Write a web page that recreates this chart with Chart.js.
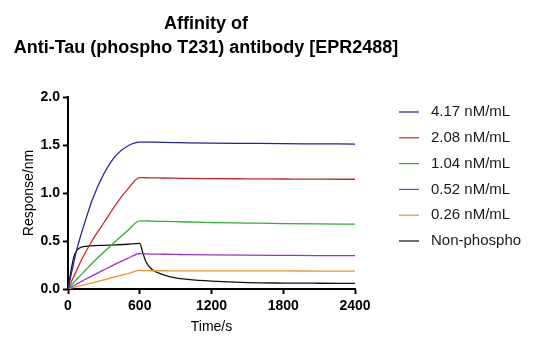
<!DOCTYPE html>
<html lang="en">
  <head>
    <meta charset="UTF-8" />
    <title>Affinity of Anti-Tau (phospho T231) antibody [EPR2488]</title>
    <style>
      body {
        margin: 0;
        background-color: #ffffff;
      }
      #chart-box {
        width: 537px;
        height: 351px;
      }
    </style>
  </head>
  <body>
    <div id="chart-box">
      <canvas id="affinityChart" width="537" height="351"></canvas>
    </div>
    <script src="https://cdn.jsdelivr.net/npm/chart.js"></script>
    <script>
      // time points (s), shared by all traces
      const timePoints = [0, 25, 50, 75, 100, 150, 200, 300, 400, 500, 600,
        625, 650, 700, 800, 900, 1000, 1200, 1500, 1800, 2100, 2400];

      const seriesLabels = ["4.17 nM/mL", "2.08 nM/mL", "1.04 nM/mL",
        "0.52 nM/mL", "0.26 nM/mL", "Non-phospho"];
      const seriesColors = ["#23239c", "#c62a2a", "#2fae2f", "#9b33c9", "#e8982e", "#111111"];

      const conc417 = [0, 0.145, 0.285, 0.42, 0.53, 0.73, 0.92, 1.2, 1.39, 1.49, 1.53,
        1.53, 1.53, 1.529, 1.527, 1.525, 1.523, 1.52, 1.517, 1.514, 1.512, 1.51];
      const conc208 = [0, 0.068, 0.135, 0.2, 0.27, 0.39, 0.5, 0.69, 0.88, 1.04, 1.16,
        1.16, 1.159, 1.158, 1.156, 1.154, 1.152, 1.15, 1.148, 1.146, 1.144, 1.143];
      const conc104 = [0, 0.035, 0.07, 0.104, 0.137, 0.2, 0.265, 0.385, 0.5, 0.61, 0.71,
        0.71, 0.709, 0.707, 0.704, 0.701, 0.698, 0.692, 0.687, 0.682, 0.678, 0.675];
      const conc052 = [0, 0.018, 0.036, 0.053, 0.07, 0.104, 0.137, 0.2, 0.262, 0.32, 0.37,
        0.368, 0.366, 0.364, 0.362, 0.36, 0.358, 0.355, 0.352, 0.35, 0.348, 0.347];
      const conc026 = [0, 0.008, 0.016, 0.024, 0.032, 0.048, 0.064, 0.096, 0.128, 0.16, 0.193,
        0.192, 0.191, 0.19, 0.19, 0.189, 0.189, 0.188, 0.188, 0.188, 0.187, 0.187];
      const nonPhospho = [0, 0.19, 0.34, 0.405, 0.43, 0.445, 0.45, 0.455, 0.46, 0.466, 0.475,
        0.38, 0.29, 0.205, 0.148, 0.115, 0.1, 0.082, 0.067, 0.062, 0.06, 0.059];

      const seriesValues = [conc417, conc208, conc104, conc052, conc026, nonPhospho];

      const xTicks = [0, 600, 1200, 1800, 2400];
      const yTicks = [0, 0.5, 1.0, 1.5, 2.0];

      const titleLines = ["Affinity of", "Anti-Tau (phospho T231) antibody [EPR2488]"];
      const FONT = "'Liberation Sans', Arial, sans-serif";

      // title + legend drawn by hand so they sit where the original puts them
      const decorPlugin = {
        id: "decor",
        afterDraw(chart) {
          const ctx = chart.ctx;
          ctx.save();
          ctx.fillStyle = "#000";
          ctx.font = "bold 18px " + FONT;
          ctx.textAlign = "center";
          ctx.textBaseline = "alphabetic";
          ctx.fillText(titleLines[0], 206, 29);
          ctx.fillText(titleLines[1], 206, 53);

          ctx.font = "15px " + FONT;
          ctx.textAlign = "left";
          ctx.textBaseline = "middle";
          chart.data.datasets.forEach((ds, i) => {
            const y = 112 + i * 25.8;
            ctx.strokeStyle = ds.borderColor;
            ctx.lineWidth = 1.2;
            ctx.beginPath();
            ctx.moveTo(399, y);
            ctx.lineTo(419, y);
            ctx.stroke();
            ctx.fillStyle = "#1a1a1a";
            ctx.fillText(ds.label, 431, y);
          });
          ctx.restore();
        },
      };

      const datasets = seriesLabels.map((label, i) => ({
        label: label,
        data: timePoints.map((t, j) => ({ x: t, y: seriesValues[i][j] })),
        borderColor: seriesColors[i],
        borderWidth: 1.3,
        pointRadius: 0,
        fill: false,
        cubicInterpolationMode: "monotone",
      }));

      new Chart(document.getElementById("affinityChart"), {
        type: "line",
        data: { datasets: datasets },
        plugins: [decorPlugin],
        options: {
          responsive: false,
          animation: false,
          layout: { padding: { top: 97, right: 182, bottom: 0, left: 0 } },
          plugins: {
            legend: { display: false },
            tooltip: { enabled: false },
          },
          scales: {
            x: {
              type: "linear",
              min: 0,
              max: 2400,
              afterFit(scale) { scale.height = 62; },
              afterBuildTicks(scale) { scale.ticks = xTicks.map((v) => ({ value: v })); },
              ticks: {
                color: "#000",
                font: { family: FONT, size: 14, weight: "bold" },
                padding: 4,
                maxRotation: 0,
                callback: (v) => String(v),
              },
              grid: {
                drawOnChartArea: false,
                tickLength: 5,
                tickColor: "#000",
                tickWidth: 2,
              },
              border: { color: "#000", width: 2 },
              title: {
                display: true,
                text: "Time/s",
                color: "#000",
                font: { family: FONT, size: 14 },
                padding: { top: 0, bottom: 15.6 },
              },
            },
            y: {
              min: 0,
              max: 2,
              afterFit(scale) { scale.width = 68; },
              afterBuildTicks(scale) { scale.ticks = yTicks.map((v) => ({ value: v })); },
              ticks: {
                color: "#000",
                font: { family: FONT, size: 14, weight: "bold" },
                padding: 3,
                callback: (v) => Number(v).toFixed(1),
              },
              grid: {
                drawOnChartArea: false,
                tickLength: 5,
                tickColor: "#000",
                tickWidth: 2,
              },
              border: { color: "#000", width: 2 },
              title: {
                display: true,
                text: "Response/nm",
                color: "#000",
                font: { family: FONT, size: 14 },
                padding: { top: 20.5, bottom: 0 },
              },
            },
          },
        },
      });
    </script>
  </body>
</html>
